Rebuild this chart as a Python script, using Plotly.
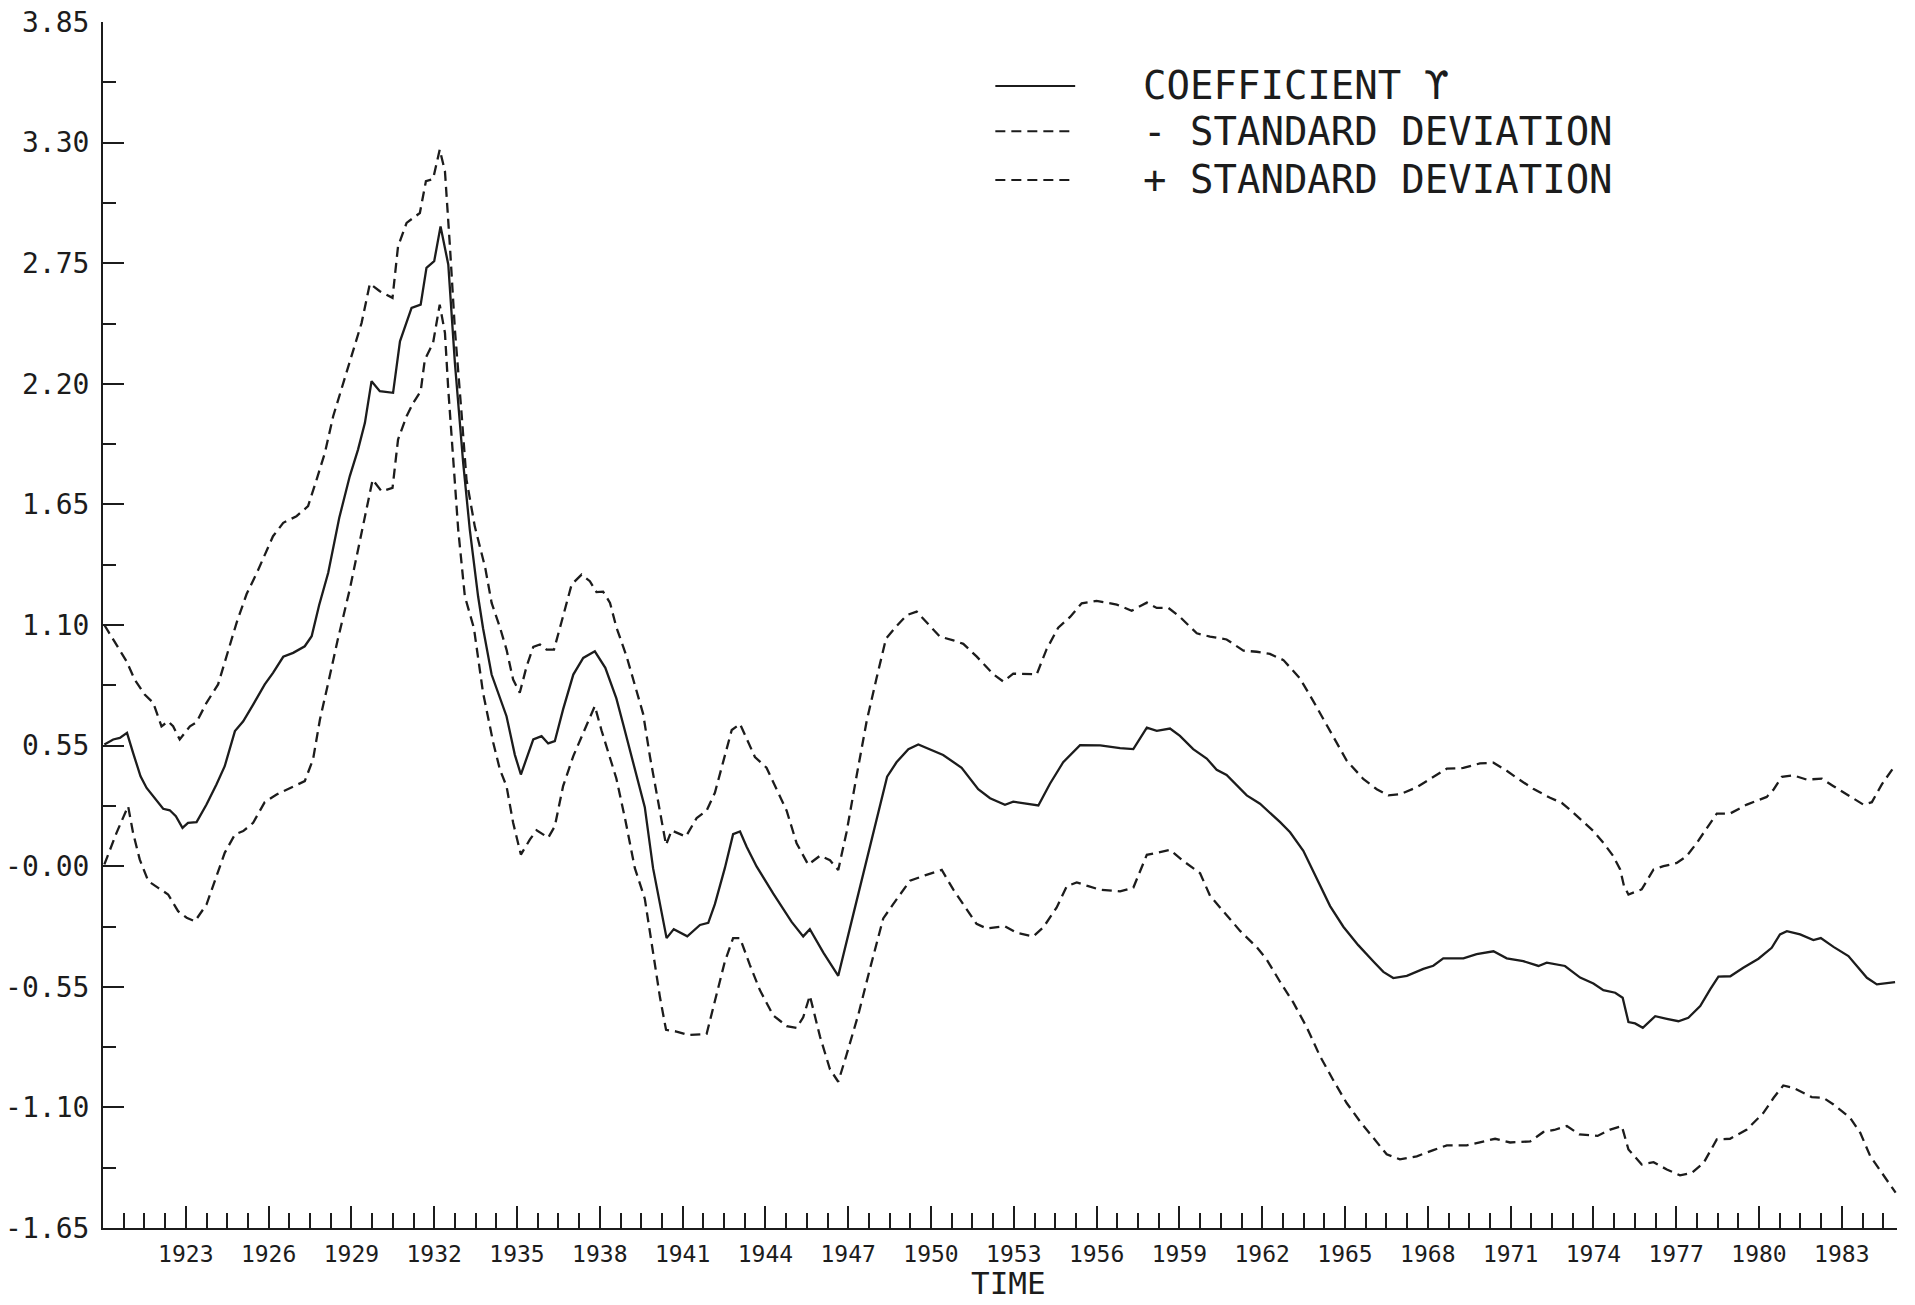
import plotly.graph_objects as go

# ---- data -----------------------------------------------------------------
coef_years = [
    1920.05, 1920.37, 1920.61, 1920.87, 1921.09, 1921.36, 1921.58, 1921.88, 1922.18, 1922.42,
    1922.64, 1922.88, 1923.08, 1923.39, 1923.75, 1924.11, 1924.41, 1924.78, 1925.08, 1925.44,
    1925.86, 1926.16, 1926.53, 1926.89, 1927.31, 1927.56, 1927.83, 1928.16, 1928.56, 1928.94,
    1929.24, 1929.49, 1929.73, 1930.03, 1930.51, 1930.76, 1931.18, 1931.51, 1931.72, 1932.00,
    1932.23, 1932.51, 1932.75, 1933.05, 1933.29, 1933.59, 1933.77, 1934.08, 1934.62, 1934.92,
    1935.14, 1935.59, 1935.89, 1936.13, 1936.37, 1936.67, 1937.04, 1937.40, 1937.82, 1938.20,
    1938.60, 1938.85, 1939.21, 1939.63, 1939.93, 1940.42, 1940.68, 1941.17, 1941.63, 1941.93,
    1942.17, 1942.53, 1942.83, 1943.08, 1943.32, 1943.68, 1944.28, 1944.95, 1945.37, 1945.61,
    1946.10, 1946.64, 1947.18, 1947.79, 1948.41, 1948.75, 1949.18, 1949.54, 1949.96, 1950.44,
    1951.11, 1951.71, 1952.14, 1952.68, 1952.98, 1953.89, 1954.31, 1954.79, 1955.40, 1956.13,
    1956.85, 1957.33, 1957.82, 1958.18, 1958.66, 1959.02, 1959.50, 1959.99, 1960.35, 1960.71,
    1961.44, 1961.92, 1962.65, 1963.01, 1963.49, 1963.98, 1964.46, 1964.94, 1965.48, 1966.03,
    1966.39, 1966.75, 1967.24, 1967.84, 1968.20, 1968.56, 1969.29, 1969.77, 1970.38, 1970.86,
    1971.46, 1972.01, 1972.31, 1972.97, 1973.52, 1974.00, 1974.36, 1974.79, 1975.06, 1975.27,
    1975.51, 1975.79, 1976.24, 1976.66, 1977.08, 1977.44, 1977.87, 1978.23, 1978.53, 1978.96,
    1979.43, 1979.98, 1980.46, 1980.76, 1981.01, 1981.49, 1981.97, 1982.24, 1982.70, 1983.24,
    1983.60, 1983.91, 1984.27, 1984.63, 1984.93,
]
coef_values = [
    0.555, 0.578, 0.585, 0.608, 0.517, 0.410, 0.357, 0.312, 0.262, 0.255,
    0.228, 0.175, 0.198, 0.201, 0.281, 0.373, 0.456, 0.616, 0.661, 0.737,
    0.829, 0.882, 0.955, 0.973, 1.003, 1.049, 1.190, 1.338, 1.589, 1.778,
    1.900, 2.022, 2.212, 2.166, 2.159, 2.394, 2.546, 2.561, 2.729, 2.759,
    2.918, 2.744, 2.295, 1.839, 1.535, 1.231, 1.085, 0.874, 0.684, 0.509,
    0.418, 0.578, 0.593, 0.560, 0.570, 0.715, 0.874, 0.950, 0.980, 0.905,
    0.765, 0.646, 0.466, 0.269, -0.009, -0.328, -0.287, -0.320, -0.268, -0.258,
    -0.173, -0.009, 0.146, 0.158, 0.089, -0.001, -0.124, -0.254, -0.320, -0.287,
    -0.394, -0.500, -0.222, 0.089, 0.408, 0.474, 0.534, 0.555, 0.534, 0.507,
    0.449, 0.351, 0.310, 0.280, 0.294, 0.277, 0.376, 0.474, 0.552, 0.551,
    0.538, 0.534, 0.632, 0.617, 0.628, 0.594, 0.534, 0.491, 0.440, 0.416,
    0.323, 0.285, 0.201, 0.155, 0.070, -0.061, -0.182, -0.276, -0.360, -0.435,
    -0.482, -0.510, -0.500, -0.468, -0.454, -0.420, -0.420, -0.401, -0.388, -0.420,
    -0.433, -0.455, -0.440, -0.455, -0.508, -0.535, -0.565, -0.577, -0.600, -0.711,
    -0.717, -0.737, -0.684, -0.696, -0.707, -0.691, -0.638, -0.562, -0.504, -0.502,
    -0.463, -0.422, -0.372, -0.311, -0.296, -0.311, -0.337, -0.328, -0.368, -0.410,
    -0.463, -0.509, -0.539, -0.532, -0.529,
]

minus_sd_years = [
    1920.05, 1920.49, 1920.91, 1921.09, 1921.33, 1921.64, 1922.00, 1922.36, 1922.72, 1923.03,
    1923.33, 1923.75, 1924.11, 1924.41, 1924.78, 1925.08, 1925.44, 1925.86, 1926.29, 1926.77,
    1927.31, 1927.61, 1927.86, 1928.16, 1928.50, 1928.94, 1929.24, 1929.55, 1929.77, 1930.09,
    1930.49, 1930.69, 1931.00, 1931.24, 1931.51, 1931.66, 1931.96, 1932.20, 1932.39, 1932.51,
    1932.69, 1932.87, 1933.11, 1933.44, 1933.77, 1934.14, 1934.38, 1934.62, 1934.86, 1935.14,
    1935.47, 1935.71, 1936.13, 1936.37, 1936.67, 1937.04, 1937.40, 1937.82, 1938.06, 1938.37,
    1938.60, 1938.91, 1939.27, 1939.63, 1939.93, 1940.18, 1940.40, 1940.78, 1941.20, 1941.87,
    1942.17, 1942.53, 1942.83, 1943.08, 1943.44, 1943.80, 1944.28, 1944.77, 1945.13, 1945.37,
    1945.61, 1945.98, 1946.34, 1946.64, 1946.94, 1947.36, 1947.79, 1948.27, 1948.63, 1949.24,
    1949.78, 1950.39, 1950.81, 1951.29, 1951.65, 1952.02, 1952.68, 1953.10, 1953.71, 1954.07,
    1954.55, 1954.92, 1955.28, 1955.70, 1956.12, 1956.85, 1957.33, 1957.82, 1958.18, 1958.66,
    1959.14, 1959.75, 1960.11, 1960.59, 1961.20, 1961.80, 1962.16, 1962.65, 1963.13, 1963.61,
    1964.09, 1964.58, 1965.06, 1965.55, 1966.03, 1966.51, 1966.99, 1967.60, 1968.20, 1968.69,
    1969.41, 1969.89, 1970.44, 1970.98, 1971.71, 1972.19, 1972.58, 1973.04, 1973.49, 1974.15,
    1974.61, 1975.03, 1975.27, 1975.75, 1976.18, 1976.66, 1977.14, 1977.57, 1978.00, 1978.47,
    1978.95, 1979.56, 1980.16, 1980.53, 1980.88, 1981.25, 1981.91, 1982.33, 1982.70, 1983.30,
    1983.67, 1984.03, 1984.50, 1984.95,
]
minus_sd_values = [
    0.008, 0.152, 0.274, 0.152, 0.031, -0.068, -0.099, -0.129, -0.205, -0.235,
    -0.251, -0.175, -0.046, 0.061, 0.145, 0.160, 0.198, 0.292, 0.327, 0.357,
    0.388, 0.487, 0.669, 0.836, 1.030, 1.262, 1.444, 1.642, 1.763, 1.710,
    1.725, 1.946, 2.052, 2.113, 2.166, 2.310, 2.387, 2.561, 2.432, 2.174,
    1.870, 1.535, 1.231, 1.085, 0.791, 0.563, 0.441, 0.365, 0.198, 0.053,
    0.122, 0.164, 0.130, 0.182, 0.365, 0.502, 0.608, 0.730, 0.620, 0.487,
    0.400, 0.220, -0.009, -0.148, -0.402, -0.598, -0.746, -0.754, -0.770, -0.765,
    -0.615, -0.435, -0.328, -0.328, -0.451, -0.565, -0.680, -0.729, -0.737, -0.689,
    -0.590, -0.778, -0.926, -0.983, -0.860, -0.680, -0.467, -0.238, -0.173, -0.066,
    -0.042, -0.017, -0.107, -0.197, -0.263, -0.284, -0.274, -0.304, -0.320, -0.279,
    -0.189, -0.091, -0.074, -0.091, -0.107, -0.115, -0.098, 0.052, 0.061, 0.074,
    0.024, -0.032, -0.135, -0.207, -0.295, -0.369, -0.425, -0.528, -0.622, -0.734,
    -0.865, -0.977, -1.080, -1.165, -1.239, -1.314, -1.337, -1.323, -1.295, -1.273,
    -1.273, -1.258, -1.243, -1.260, -1.255, -1.212, -1.203, -1.185, -1.223, -1.230,
    -1.201, -1.185, -1.292, -1.360, -1.350, -1.383, -1.410, -1.398, -1.352, -1.246,
    -1.243, -1.201, -1.125, -1.056, -1.000, -1.011, -1.053, -1.056, -1.087, -1.147,
    -1.216, -1.322, -1.406, -1.489,
]

plus_sd_years = [
    1920.05, 1920.55, 1920.85, 1921.15, 1921.51, 1921.82, 1922.12, 1922.36, 1922.54, 1922.78,
    1923.15, 1923.39, 1923.75, 1924.17, 1924.48, 1924.84, 1925.20, 1925.60, 1926.16, 1926.53,
    1927.01, 1927.43, 1927.74, 1928.04, 1928.34, 1928.70, 1929.06, 1929.37, 1929.67, 1930.03,
    1930.49, 1930.69, 1931.00, 1931.48, 1931.70, 1931.96, 1932.20, 1932.39, 1932.57, 1932.75,
    1932.99, 1933.17, 1933.47, 1933.85, 1934.08, 1934.38, 1934.62, 1934.86, 1935.10, 1935.35,
    1935.59, 1935.83, 1936.07, 1936.34, 1936.62, 1936.98, 1937.34, 1937.64, 1937.88, 1938.12,
    1938.37, 1938.60, 1938.97, 1939.33, 1939.57, 1939.82, 1940.12, 1940.40, 1940.60, 1941.12,
    1941.51, 1941.87, 1942.17, 1942.47, 1942.78, 1943.08, 1943.32, 1943.62, 1944.04, 1944.41,
    1944.77, 1945.13, 1945.55, 1945.98, 1946.34, 1946.64, 1946.94, 1947.31, 1947.67, 1948.03,
    1948.37, 1948.76, 1949.12, 1949.48, 1949.90, 1950.32, 1950.81, 1951.17, 1951.65, 1952.26,
    1952.62, 1952.98, 1953.83, 1954.19, 1954.61, 1955.04, 1955.46, 1956.00, 1956.73, 1957.27,
    1957.82, 1958.18, 1958.60, 1959.02, 1959.63, 1960.11, 1960.71, 1961.32, 1961.80, 1962.28,
    1962.77, 1963.37, 1963.85, 1964.46, 1965.06, 1965.66, 1966.15, 1966.57, 1966.99, 1967.60,
    1968.20, 1968.69, 1969.29, 1969.89, 1970.38, 1970.86, 1971.22, 1971.82, 1972.43, 1972.85,
    1973.21, 1973.63, 1974.00, 1974.36, 1974.72, 1974.97, 1975.11, 1975.27, 1975.75, 1976.18,
    1976.54, 1977.02, 1977.38, 1977.75, 1978.11, 1978.47, 1978.95, 1979.56, 1980.28, 1980.53,
    1980.83, 1981.25, 1981.73, 1982.28, 1982.70, 1983.30, 1983.78, 1984.09, 1984.45, 1984.87,
]
plus_sd_values = [
    1.100, 0.996, 0.935, 0.851, 0.783, 0.745, 0.638, 0.661, 0.638, 0.578,
    0.638, 0.657, 0.745, 0.829, 0.958, 1.110, 1.240, 1.345, 1.505, 1.566,
    1.596, 1.642, 1.763, 1.885, 2.052, 2.204, 2.356, 2.478, 2.657, 2.622,
    2.592, 2.827, 2.934, 2.979, 3.124, 3.134, 3.268, 3.169, 2.827, 2.447,
    2.067, 1.763, 1.550, 1.360, 1.201, 1.090, 0.988, 0.851, 0.791, 0.912,
    1.000, 1.011, 0.988, 0.988, 1.117, 1.285, 1.330, 1.300, 1.250, 1.252,
    1.201, 1.090, 0.957, 0.793, 0.695, 0.498, 0.285, 0.097, 0.163, 0.135,
    0.220, 0.253, 0.335, 0.482, 0.621, 0.649, 0.580, 0.498, 0.449, 0.351,
    0.253, 0.105, 0.007, 0.048, 0.027, -0.017, 0.155, 0.416, 0.662, 0.859,
    1.038, 1.096, 1.145, 1.161, 1.104, 1.047, 1.030, 1.014, 0.957, 0.875,
    0.842, 0.878, 0.875, 0.990, 1.088, 1.137, 1.199, 1.210, 1.193, 1.165,
    1.202, 1.178, 1.178, 1.137, 1.062, 1.047, 1.034, 0.983, 0.978, 0.968,
    0.940, 0.856, 0.753, 0.613, 0.482, 0.398, 0.351, 0.323, 0.328, 0.360,
    0.407, 0.445, 0.448, 0.469, 0.472, 0.435, 0.403, 0.353, 0.312, 0.289,
    0.251, 0.205, 0.160, 0.107, 0.046, -0.015, -0.091, -0.129, -0.106, -0.015,
    0.000, 0.015, 0.046, 0.107, 0.175, 0.240, 0.240, 0.281, 0.316, 0.350,
    0.408, 0.414, 0.395, 0.399, 0.365, 0.319, 0.281, 0.292, 0.373, 0.449,
]

y_tick_values = [-1.65, -1.10, -0.55, 0.0, 0.55, 1.10, 1.65, 2.20, 2.75, 3.30, 3.85]
y_tick_labels = ["-1.65", "-1.10", "-0.55", "-0.00", "0.55", "1.10",
                 "1.65", "2.20", "2.75", "3.30", "3.85"]
x_tick_values = list(range(1923, 1984, 3))
x_tick_labels = [str(v) for v in x_tick_values]

legend_labels = ["COEFFICIENT ϒ", "- STANDARD DEVIATION", "+ STANDARD DEVIATION"]
legend_dashes = ["solid", "10px,6px", "10px,6px"]

# ---- styling --------------------------------------------------------------
INK = "#1c1c1c"
MONO = "DejaVu Sans Mono"
DASH = "10px,6px"
X_RANGE = [1920, 1985]
Y_RANGE = [-1.65, 3.85]

# minor ticks: every 0.75 year on x, halfway between labelled values on y
x_minor = [1920 + 0.75 * k for k in range(1, 87) if k % 4 != 0]
y_minor = [(a + b) / 2 for a, b in zip(y_tick_values[:-1], y_tick_values[1:])]

fig = go.Figure()
fig.add_trace(go.Scatter(x=coef_years, y=coef_values, mode="lines",
                         name=legend_labels[0], showlegend=False,
                         line=dict(color=INK, width=2.3)))
fig.add_trace(go.Scatter(x=minus_sd_years, y=minus_sd_values, mode="lines",
                         name=legend_labels[1], showlegend=False,
                         line=dict(color=INK, width=2.3, dash=DASH)))
fig.add_trace(go.Scatter(x=plus_sd_years, y=plus_sd_values, mode="lines",
                         name=legend_labels[2], showlegend=False,
                         line=dict(color=INK, width=2.3, dash=DASH)))

# hand-drawn key in the upper right
key_rows = [0.9470, 0.9095, 0.8690]
shapes = []
annotations = []
for label, dash, yy in zip(legend_labels, legend_dashes, key_rows):
    shapes.append(dict(type="line", xref="paper", yref="paper",
                       x0=0.4974, x1=0.5419, y0=yy, y1=yy,
                       line=dict(color=INK, width=2, dash=dash)))
    annotations.append(dict(xref="paper", yref="paper", x=0.5784, y=yy,
                            xanchor="left", yanchor="middle", showarrow=False,
                            text=label, font=dict(family=MONO, size=39, color=INK)))

# axis caption below the year labels
annotations.append(dict(xref="paper", yref="paper", x=0.5045, y=-0.0456,
                        xanchor="center", yanchor="middle", showarrow=False,
                        borderpad=0,
                        text="TIME", font=dict(family=MONO, size=31, color=INK)))

fig.update_layout(
    width=1915, height=1305,
    margin=dict(l=103, r=18, t=22, b=77, autoexpand=False),
    paper_bgcolor="white", plot_bgcolor="white",
    shapes=shapes, annotations=annotations,
    xaxis=dict(
        range=X_RANGE, showgrid=False, zeroline=False, automargin=False,
        showline=True, linecolor=INK, linewidth=2,
        ticks="inside", ticklen=22, tickwidth=2, tickcolor=INK,
        tickmode="array", tickvals=x_tick_values, ticktext=x_tick_labels,
        tickfont=dict(family=MONO, size=23, color=INK),
        ticklabelstandoff=4,
        minor=dict(tickmode="array", tickvals=x_minor, ticks="inside",
                   ticklen=15, tickwidth=2, tickcolor=INK, showgrid=False),
    ),
    yaxis=dict(
        range=Y_RANGE, showgrid=False, zeroline=False, automargin=False,
        showline=True, linecolor=INK, linewidth=2,
        ticks="inside", ticklen=21, tickwidth=2, tickcolor=INK,
        tickmode="array", tickvals=y_tick_values, ticktext=y_tick_labels,
        tickfont=dict(family=MONO, size=28, color=INK),
        ticklabelstandoff=6,
        minor=dict(tickmode="array", tickvals=y_minor, ticks="inside",
                   ticklen=13, tickwidth=2, tickcolor=INK, showgrid=False),
    ),
)

fig.write_html("out.html")
